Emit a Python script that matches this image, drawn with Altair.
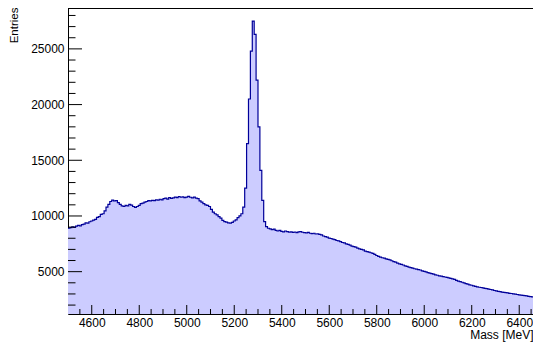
import altair as alt
import pandas as pd

# Histogram: bin contents (8 MeV bins from 4500 to 6500 MeV)
counts = [
    8900, 8950, 9020, 8980, 9080, 9150, 9120, 9230, 9260, 9380,
    9350, 9480, 9550, 9620, 9700, 9880, 9950, 10150, 10200, 10450,
    10800, 11050, 11300, 11420, 11350, 11380, 11200, 11050, 10900, 10850,
    10950, 10900, 11050, 10980, 10850, 10780, 10850, 10950, 11100, 11150,
    11250, 11300, 11380, 11350, 11400, 11380, 11450, 11420, 11500, 11450,
    11550, 11600, 11520, 11650, 11580, 11620, 11700, 11640, 11750, 11680,
    11720, 11650, 11700, 11760, 11680, 11620, 11700, 11600, 11550, 11350,
    11250, 11100, 11000, 10950, 10850, 10600, 10350, 10200, 10100, 9950,
    9800, 9600, 9500, 9450, 9380, 9350, 9420, 9550, 9650, 9850,
    10000, 10200, 10800, 12500, 16500, 20500, 24800, 27500, 26300, 22200,
    18000, 14100, 11400, 9500, 9050, 8900, 8850, 8780, 8820, 8700,
    8650, 8700, 8620, 8580, 8650, 8600, 8550, 8580, 8520, 8560,
    8500, 8580, 8600, 8540, 8500, 8480, 8520, 8450, 8420, 8450,
    8380, 8400, 8350, 8300, 8200, 8150, 8100, 8020, 7980, 7920,
    7880, 7800, 7760, 7700, 7620, 7580, 7500, 7450, 7380, 7300,
    7250, 7200, 7120, 7050, 7000, 6950, 6850, 6800, 6760, 6700,
    6650, 6550, 6450, 6380, 6300, 6250, 6220, 6150, 6100, 6050,
    5980, 5900, 5850, 5760, 5700, 5650, 5600, 5520, 5480, 5400,
    5360, 5320, 5260, 5220, 5180, 5150, 5080, 5020, 4980, 4920,
    4870, 4820, 4780, 4720, 4680, 4630, 4600, 4550, 4520, 4480,
    4440, 4400, 4350, 4300, 4220, 4160, 4100, 4050, 3990, 3930,
    3880, 3820, 3780, 3720, 3680, 3640, 3600, 3580, 3540, 3500,
    3470, 3430, 3400, 3360, 3310, 3270, 3230, 3200, 3170, 3150,
    3110, 3090, 3060, 3040, 3010, 2980, 2950, 2920, 2900, 2880,
    2850, 2820, 2790, 2760, 2740, 2710, 2690, 2650, 2630, 2600,
]
mass_min = 4500
bin_width = 8

x_major = [4600, 4800, 5000, 5200, 5400, 5600, 5800, 6000, 6200, 6400]
x_minor = [4550, 4650, 4700, 4750, 4850, 4900, 4950, 5050, 5100, 5150,
           5250, 5300, 5350, 5450, 5500, 5550, 5650, 5700, 5750, 5850,
           5900, 5950, 6050, 6100, 6150, 6250, 6300, 6350, 6450]
y_major = [5000, 10000, 15000, 20000, 25000]
y_minor = [2000, 3000, 4000, 6000, 7000, 8000, 9000, 11000, 12000, 13000,
           14000, 16000, 17000, 18000, 19000, 21000, 22000, 23000, 24000,
           26000, 27000, 28000]

edges = [mass_min + bin_width * i for i in range(len(counts) + 1)]
df = pd.DataFrame({"mass": edges, "entries": counts + [counts[-1]]})

W, H = 465, 306
FONT = "Liberation Sans"

# visible window of the frame (the right end of the range lies off the page)
x_scale = alt.Scale(domain=[4500, 6458], nice=False, zero=False)
y_scale = alt.Scale(domain=[1200, 28670], nice=False, zero=False)

x_axis = alt.Axis(
    values=x_major, format="d", ticks=False, domain=True, domainColor="black",
    domainWidth=1, grid=False,
    labelFont=FONT, labelFontSize=12, labelColor="black", labelPadding=3,
    labelFlush=False, labelOverlap=False,
    title="Mass [MeV]", titleFont=FONT, titleFontSize=12,
    titleFontWeight="normal", titleColor="black", titleAlign="right",
    titleBaseline="alphabetic", titleX=W, titleY=24.5)
y_axis = alt.Axis(
    values=y_major, format="d", ticks=False, domain=True, domainColor="black",
    domainWidth=1, grid=False,
    labelFont=FONT, labelFontSize=12, labelColor="black", labelPadding=4,
    labelFlush=False, labelOverlap=False,
    title="Entries", titleFont=FONT, titleFontSize=11.5,
    titleFontWeight="normal", titleColor="black", titleAngle=270,
    titleAlign="right", titleBaseline="alphabetic", titleX=-51, titleY=-1)

area = alt.Chart(df).mark_area(
    interpolate="step-after", color="#ccccff", clip=True
).encode(
    x=alt.X("mass:Q", scale=x_scale, axis=x_axis),
    y=alt.Y("entries:Q", scale=y_scale, axis=y_axis),
    y2=alt.datum(0),
)

line = alt.Chart(df).mark_line(
    interpolate="step-after", color="#000099", strokeWidth=1.2, clip=True
).encode(
    x=alt.X("mass:Q", scale=x_scale, axis=x_axis),
    y=alt.Y("entries:Q", scale=y_scale, axis=y_axis),
)

def xticks(vals, length):
    return alt.Chart(pd.DataFrame({"mass": vals})).mark_rule(
        color="black", strokeWidth=1
    ).encode(
        x=alt.X("mass:Q", scale=x_scale, axis=x_axis),
        y=alt.value(H), y2=alt.value(H - length),
    )

def yticks(vals, length):
    return alt.Chart(pd.DataFrame({"entries": vals})).mark_rule(
        color="black", strokeWidth=1
    ).encode(
        y=alt.Y("entries:Q", scale=y_scale, axis=y_axis),
        x=alt.value(0), x2=alt.value(length),
    )

top_frame = alt.Chart(pd.DataFrame({"entries": [0]})).mark_rule(
    color="black", strokeWidth=1
).encode(x=alt.value(0), x2=alt.value(W), y=alt.value(0.5))

chart = alt.layer(
    area, line,
    xticks(x_major, 9), xticks(x_minor, 5),
    yticks(y_major, 14), yticks(y_minor, 7.5),
    top_frame,
).properties(
    width=W, height=H,
    autosize=alt.AutoSizeParams(type="none"),
    padding={"left": 60, "top": 0, "right": 0, "bottom": 31},
    background="white",
).configure_view(stroke=None)

chart.save("out.html", embed_options={"renderer": "svg", "actions": False})
